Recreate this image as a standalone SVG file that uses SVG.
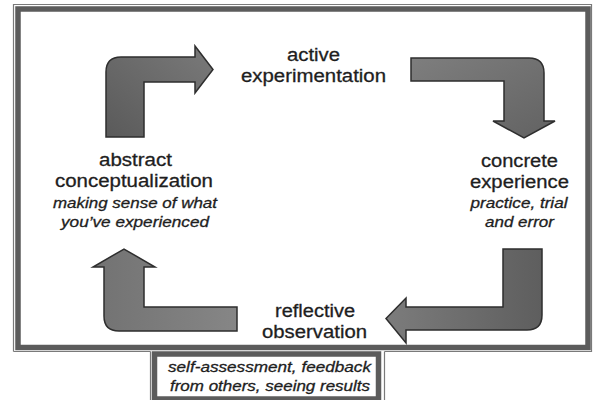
<svg xmlns="http://www.w3.org/2000/svg" width="593" height="400" viewBox="0 0 593 400">
<defs>
<style>
.thin{fill:none;stroke:#7a7a7a;stroke-width:1.2}
.band{fill:none;stroke:#5c5c5c;stroke-width:5.5}
.lbl{font-family:"Liberation Sans",Arial,sans-serif;font-size:18px;fill:#1e1e1e;stroke:#1e1e1e;stroke-width:0.3;text-anchor:middle}
.sub{font-family:"Liberation Sans",Arial,sans-serif;font-size:14.5px;font-style:italic;fill:#1e1e1e;stroke:#1e1e1e;stroke-width:0.3;text-anchor:middle}
.arrow{stroke:#2e2e2e;stroke-width:1.5;stroke-linejoin:miter}
</style>
<linearGradient id="gTL" x1="0" y1="1" x2="1" y2="0">
<stop offset="0" stop-color="#5a5a5a"/>
<stop offset="1" stop-color="#7a7a7a"/>
</linearGradient>
<linearGradient id="gTR" x1="0" y1="0" x2="1" y2="1">
<stop offset="0" stop-color="#7e7e7e"/>
<stop offset="1" stop-color="#626262"/>
</linearGradient>
<linearGradient id="gBR" x1="0" y1="0" x2="1" y2="0">
<stop offset="0" stop-color="#7c7c7c"/>
<stop offset="1" stop-color="#5e5e5e"/>
</linearGradient>
<linearGradient id="gBL" x1="0" y1="0" x2="1" y2="0">
<stop offset="0" stop-color="#727272"/>
<stop offset="1" stop-color="#868686"/>
</linearGradient>
</defs>
<rect x="0" y="0" width="593" height="400" fill="#ffffff"/>

<g id="frame">
<path class="thin" d="M13.5,351.5 L13.5,4.5 L591.5,4.5 L591.5,351.5 L384.5,351.5 M150.5,351.5 L13.5,351.5"/>
<rect class="band" x="18" y="9" width="570" height="338.5"/>
</g>

<g id="connectors">
<path id="arrow-ac-ae" class="arrow" fill="url(#gTL)" d="M106,137 L106,72 Q106,57 121,57 L195,57 L195,46 L213,69.5 L195,93 L195,82 L144,82 L144,137 Z"/>
<path id="arrow-ae-ce" class="arrow" fill="url(#gTR)" d="M411,58 L529,58 Q544,58 544,73 L544,121 L555,121 L524,138 L493,121 L504,121 L504,81 L411,81 Z"/>
<path id="arrow-ce-ro" class="arrow" fill="url(#gBR)" d="M503,249 L542,249 L542,315 Q542,330 527,330 L406,330 L406,343 L386,318.5 L406,298 L406,307 L503,307 Z"/>
<path id="arrow-ro-ac" class="arrow" fill="url(#gBL)" d="M237,307 L144,307 L144,267 L155,267 L124,249 L93,267 L104,267 L104,316 Q104,331 119,331 L237,331 Z"/>
</g>

<g id="node-active">
<text class="lbl" x="313.5" y="61" textLength="53" lengthAdjust="spacingAndGlyphs">active</text>
<text class="lbl" x="313.5" y="82" textLength="145" lengthAdjust="spacingAndGlyphs">experimentation</text>
</g>

<g id="node-concrete">
<text class="lbl" x="519.5" y="167" textLength="77" lengthAdjust="spacingAndGlyphs">concrete</text>
<text class="lbl" x="519.5" y="188" textLength="99" lengthAdjust="spacingAndGlyphs">experience</text>
<text class="sub" x="519" y="208" textLength="97" lengthAdjust="spacingAndGlyphs">practice, trial</text>
<text class="sub" x="519.5" y="227" textLength="69" lengthAdjust="spacingAndGlyphs">and error</text>
</g>

<g id="node-reflective">
<text class="lbl" x="315" y="317" textLength="80" lengthAdjust="spacingAndGlyphs">reflective</text>
<text class="lbl" x="314.5" y="338" textLength="105" lengthAdjust="spacingAndGlyphs">observation</text>
</g>

<g id="node-abstract">
<text class="lbl" x="135.5" y="166" textLength="73" lengthAdjust="spacingAndGlyphs">abstract</text>
<text class="lbl" x="134" y="187" textLength="158" lengthAdjust="spacingAndGlyphs">conceptualization</text>
<text class="sub" x="135" y="208" textLength="164" lengthAdjust="spacingAndGlyphs">making sense of what</text>
<text class="sub" x="135" y="227" textLength="148" lengthAdjust="spacingAndGlyphs">you’ve experienced</text>
</g>

<g id="node-note">
<path class="thin" d="M150.5,351.5 L150.5,400 M384.5,351.5 L384.5,400"/>
<rect class="band" x="154.5" y="354" width="224" height="45"/>
<text class="sub" x="269.5" y="372" textLength="203" lengthAdjust="spacingAndGlyphs">self-assessment, feedback</text>
<text class="sub" x="270" y="391" textLength="200" lengthAdjust="spacingAndGlyphs">from others, seeing results</text>
</g>
</svg>
